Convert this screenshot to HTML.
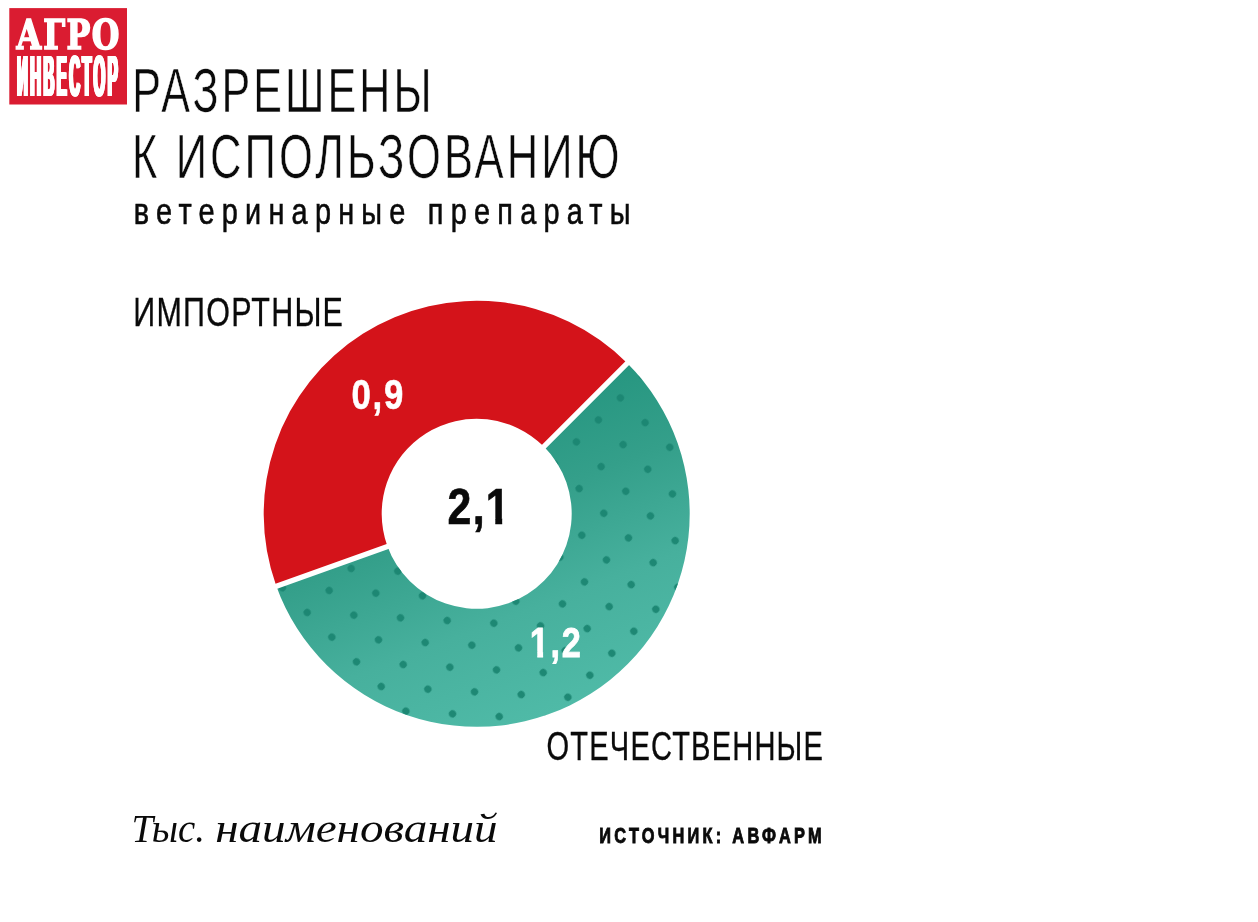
<!DOCTYPE html>
<html lang="ru">
<head>
<meta charset="utf-8">
<title>Разрешены к использованию ветеринарные препараты</title>
<style>
html,body{margin:0;padding:0;background:#fff;}
body{width:1258px;height:922px;overflow:hidden;position:relative;}
svg{position:absolute;left:0;top:0;display:block;}
.sans{font-family:"Liberation Sans",Arial,Helvetica,sans-serif;}
.serif{font-family:"Liberation Serif","Times New Roman",serif;}
.slab{font-family:"DejaVu Serif Condensed","DejaVu Serif","Liberation Serif",serif;}
.head{fill:#0a0a0a;stroke:#fff;stroke-width:0.6px;}
.lab{fill:#0a0a0a;stroke:#0a0a0a;stroke-width:0.3px;}
.sub{fill:#0a0a0a;stroke:#0a0a0a;stroke-width:0.6px;}
.num{font-weight:bold;}
</style>
</head>
<body>
<svg width="1258" height="922" viewBox="0 0 1258 922">
<defs>
<linearGradient id="gg" gradientUnits="userSpaceOnUse" x1="627" y1="363" x2="734.7" y2="643">
<stop offset="0" stop-color="#269680"/>
<stop offset="0.3" stop-color="#349f8a"/>
<stop offset="0.65" stop-color="#47b09d"/>
<stop offset="1" stop-color="#4fbaa7"/>
</linearGradient>
<pattern id="dots" patternUnits="userSpaceOnUse" x="4.62" y="13.72" width="34.9" height="31.1" patternTransform="rotate(45)">
<circle cx="17.45" cy="15.55" r="3.7" fill="#1b8672" fill-opacity="0.95"/>
</pattern>
<filter id="fat" x="-5%" y="-5%" width="110%" height="110%">
<feOffset in="SourceGraphic" dx="-1.3" result="a"/>
<feOffset in="SourceGraphic" dx="-0.87" result="b"/>
<feOffset in="SourceGraphic" dx="-0.43" result="c"/>
<feOffset in="SourceGraphic" dx="0.43" result="d"/>
<feOffset in="SourceGraphic" dx="0.87" result="e"/>
<feOffset in="SourceGraphic" dx="1.3" result="f"/>
<feMerge><feMergeNode in="a"/><feMergeNode in="b"/><feMergeNode in="c"/><feMergeNode in="SourceGraphic"/><feMergeNode in="d"/><feMergeNode in="e"/><feMergeNode in="f"/></feMerge>
</filter>
<clipPath id="c21" clipPathUnits="userSpaceOnUse"><rect x="437.58" y="473.20" width="83.31" height="44.79"/><rect x="495.30" y="517.49" width="6.87" height="24.02"/><rect x="437.58" y="517.49" width="49.58" height="24.02"/><rect x="509.77" y="517.49" width="11.12" height="24.02"/></clipPath>
<clipPath id="c12" clipPathUnits="userSpaceOnUse"><rect x="519.84" y="614.50" width="72.79" height="37.01"/><rect x="537.29" y="651.01" width="5.80" height="20.19"/><rect x="519.84" y="651.01" width="10.76" height="20.19"/><rect x="549.35" y="651.01" width="43.28" height="20.19"/></clipPath>
</defs>
<rect width="1258" height="922" fill="#fff"/>

<!-- logo -->
<g id="logo">
<rect x="9.3" y="8.1" width="117.7" height="96.4" fill="#da1c31"/>
<text id="agro" class="slab" x="16.10" textLength="104.71" lengthAdjust="spacingAndGlyphs" y="49.2" font-size="41.6" font-weight="bold" fill="#fff" stroke="#fff" stroke-width="1.6" letter-spacing="0.04em">АГРО</text>
<text id="inv" class="sans" x="16.89" textLength="103.28" lengthAdjust="spacingAndGlyphs" y="95.7" font-size="57" font-weight="bold" fill="#fff" letter-spacing="0.167em" filter="url(#fat)">ИНВЕСТОР</text>
</g>

<!-- heading -->
<text id="h1" class="sans head" x="132.25" textLength="302.31" lengthAdjust="spacingAndGlyphs" y="111.8" font-size="63" letter-spacing="0.07em">РАЗРЕШЕНЫ</text>
<text id="h2" class="sans head" x="132.11" textLength="490.46" lengthAdjust="spacingAndGlyphs" y="178.1" font-size="63" letter-spacing="0.07em">К ИСПОЛЬЗОВАНИЮ</text>
<text id="sub" class="sans sub" x="133.84" textLength="503.97" lengthAdjust="spacingAndGlyphs" y="223.6" font-size="36.6" letter-spacing="0.25em">ветеринарные препараты</text>

<!-- donut -->
<path d="M627.31 363.19A213.0 213.0 0 0 0 276.10 585.41L387.23 545.74A95.0 95.0 0 0 1 543.88 446.62Z" fill="#d4131a"/>
<path d="M276.10 585.41A213.0 213.0 0 1 0 627.31 363.19L543.88 446.62A95.0 95.0 0 1 1 387.23 545.74Z" fill="url(#gg)"/>
<path d="M276.10 585.41A213.0 213.0 0 1 0 627.31 363.19L543.88 446.62A95.0 95.0 0 1 1 387.23 545.74Z" fill="url(#dots)"/>
<path d="M539.63 450.87L631.56 358.94M393.18 544.57L270.75 588.28" stroke="#fff" stroke-width="5.2" fill="none"/>

<text id="n09" class="sans num" x="351.56" textLength="53.53" lengthAdjust="spacingAndGlyphs" y="409.2" font-size="43.2" letter-spacing="0.05em" fill="#fff" stroke="#fff" stroke-width="0.6">0,9</text>
<text id="n21" class="sans num" x="447.58" textLength="63.31" lengthAdjust="spacingAndGlyphs" y="523.8" font-size="50.6" letter-spacing="0.03em" fill="#0a0a0a" stroke="#0a0a0a" stroke-width="0.7" clip-path="url(#c21)">2,1</text>
<text id="n12" class="sans num" x="529.84" textLength="52.79" lengthAdjust="spacingAndGlyphs" y="656.5" font-size="42" letter-spacing="0.05em" fill="#fff" stroke="#fff" stroke-width="0.8" clip-path="url(#c12)">1,2</text>

<!-- labels -->
<text id="imp" class="sans lab" x="133.32" textLength="210.85" lengthAdjust="spacingAndGlyphs" y="326" font-size="40.2" letter-spacing="0.04em">ИМПОРТНЫЕ</text>
<text id="ote" class="sans lab" x="546.57" textLength="277.47" lengthAdjust="spacingAndGlyphs" y="759.8" font-size="40" letter-spacing="0.04em">ОТЕЧЕСТВЕННЫЕ</text>

<!-- footer -->
<text id="tys" class="serif" y="842.4" font-size="40.5" font-style="italic" fill="#0a0a0a"><tspan x="131.47" textLength="73.37" lengthAdjust="spacingAndGlyphs">Тыс.</tspan> <tspan x="215.18" textLength="282.49" lengthAdjust="spacingAndGlyphs">наименований</tspan></text>
<text id="ist" class="sans" x="599.30" textLength="225.47" lengthAdjust="spacingAndGlyphs" y="842.7" font-size="21.5" font-weight="bold" fill="#0a0a0a" stroke="#0a0a0a" stroke-width="0.9" letter-spacing="0.2em">ИСТОЧНИК: АВФАРМ</text>
</svg>
</body>
</html>
